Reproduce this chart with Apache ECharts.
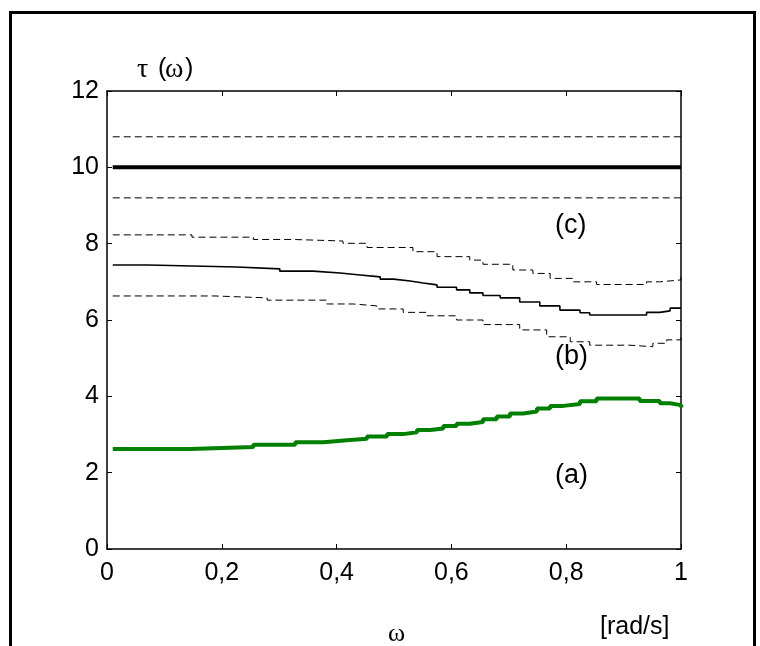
<!DOCTYPE html>
<html>
<head>
<meta charset="utf-8">
<script src="https://cdn.jsdelivr.net/npm/echarts@6/dist/echarts.min.js"></script>
<style>
  html, body { margin: 0; padding: 0; background: #fff; }
  #chart { width: 760px; height: 646px; }
</style>
</head>
<body>
<div id="chart"></div>
<script>
// omega [rad/s], tau values (staircase points: value starts at omega)
const xTicks = [0, 0.2, 0.4, 0.6, 0.8, 1];
const yTicks = [0, 2, 4, 6, 8, 10, 12];

const refLine = [[0.01, 10], [1, 10]];
const refUpper = [[0.01, 10.8], [1, 10.8]];
const refLower = [[0.01, 9.2], [1, 9.2]];

const curveB = [
  [0.01, 7.44], [0.071, 7.39], [0.226, 7.34], [0.301, 7.28], [0.359, 7.23],
  [0.406, 7.18], [0.441, 7.13], [0.476, 7.07], [0.499, 7.02], [0.528, 6.97],
  [0.551, 6.92], [0.575, 6.86], [0.609, 6.79], [0.632, 6.71], [0.655, 6.64],
  [0.685, 6.58], [0.719, 6.47], [0.754, 6.37], [0.789, 6.26], [0.824, 6.19],
  [0.841, 6.13], [0.929, 6.13], [0.94, 6.2], [0.963, 6.24], [0.981, 6.31], [1, 6.31]
];
const curveBUpper = [
  [0.01, 8.23], [0.148, 8.17], [0.255, 8.11], [0.324, 8.07], [0.411, 8.01],
  [0.453, 7.9], [0.533, 7.79], [0.575, 7.66], [0.632, 7.57], [0.655, 7.46],
  [0.707, 7.31], [0.742, 7.22], [0.772, 7.09], [0.812, 7.0], [0.853, 6.93],
  [0.917, 6.93], [0.94, 7.0], [0.963, 7.05], [1, 7.12]
];
const curveBLower = [
  [0.01, 6.63], [0.188, 6.58], [0.279, 6.52], [0.383, 6.42], [0.429, 6.37],
  [0.47, 6.29], [0.516, 6.2], [0.557, 6.11], [0.609, 6.0], [0.655, 5.88],
  [0.719, 5.74], [0.766, 5.56], [0.807, 5.43], [0.841, 5.34], [0.911, 5.3],
  [0.951, 5.39], [0.975, 5.48], [1, 5.56]
];
const curveA = [
  [0.01, 2.62], [0.145, 2.67], [0.255, 2.73], [0.328, 2.8], [0.377, 2.85],
  [0.418, 2.89], [0.453, 2.95], [0.488, 3.01], [0.516, 3.06], [0.54, 3.12],
  [0.563, 3.16], [0.586, 3.22], [0.609, 3.28], [0.632, 3.33], [0.655, 3.4],
  [0.679, 3.47], [0.702, 3.55], [0.725, 3.6], [0.749, 3.68], [0.772, 3.75],
  [0.795, 3.8], [0.824, 3.87], [0.853, 3.94], [0.917, 3.94], [0.928, 3.88],
  [0.963, 3.82], [0.981, 3.77], [1, 3.71]
];

const SANS = "'Liberation Sans', Arial, sans-serif";
const SERIF = "'Liberation Serif', 'Times New Roman', serif";
const DASH = [7, 4];

const inst = echarts.init(document.getElementById("chart"), null, { renderer: "canvas" });

function axisCommon() {
  return {
    min: 0,
    axisLine: { show: true, onZero: false, lineStyle: { color: "#000", width: 1.5 } },
    axisTick: { show: true, inside: true, length: 5, lineStyle: { color: "#000", width: 1 } },
    splitLine: { show: false },
    axisLabel: { show: false },
  };
}

function line(data, color, width, type) {
  return {
    type: "line", data, step: "end", showSymbol: false, symbol: "none",
    lineStyle: { color, width, type: type || "solid" }, animation: false,
  };
}

function txt(str, left, top, size, family) {
  return {
    type: "text", left, top, silent: true,
    style: { text: str, fill: "#000", font: size + "px " + family },
  };
}

inst.setOption({
  animation: false,
  backgroundColor: "#fff",
  grid: { left: 107, right: 79, top: 91, bottom: 97 },
  xAxis: [
    Object.assign(axisCommon(), {
      type: "value", max: 1, interval: 0.2, position: "bottom",
      axisLabel: {
        show: true, color: "#000", fontFamily: SANS, fontSize: 25, margin: 12,
        formatter: (v) => (xTicks.includes(+v.toFixed(1)) ? String(+v.toFixed(1)).replace(".", ",") : ""),
      },
    }),
    Object.assign(axisCommon(), { type: "value", max: 1, interval: 0.2, position: "top" }),
  ],
  yAxis: [
    Object.assign(axisCommon(), {
      type: "value", max: 12, interval: 2, position: "left",
      axisLabel: {
        show: true, color: "#000", fontFamily: SANS, fontSize: 25, margin: 8,
        formatter: (v) => (yTicks.includes(v) ? String(v) : ""),
      },
    }),
    Object.assign(axisCommon(), { type: "value", max: 12, interval: 2, position: "right" }),
  ],
  series: [
    line(refUpper, "#000", 1, DASH),
    line(refLine, "#000", 4),
    line(refLower, "#000", 1, DASH),
    line(curveBUpper, "#000", 1, DASH),
    line(curveB, "#000", 1.6),
    line(curveBLower, "#000", 1, DASH),
    line(curveA, "#008000", 4),
  ],
  graphic: [
    {
      type: "rect", left: 8, top: 10, silent: true,
      shape: { width: 744, height: 700 },
      style: { fill: "none", stroke: "#000", lineWidth: 3 },
    },
    txt("τ", 137, 56, 28, SERIF),
    txt("(", 158, 57, 25, SANS),
    txt("ω", 165, 56, 28, SERIF),
    txt(")", 185, 57, 25, SANS),
    txt("ω", 388, 621, 26, SERIF),
    txt("[rad/s]", 600, 615, 25, SANS),
    txt("(c)", 555, 212, 27, SANS),
    txt("(b)", 555, 343, 27, SANS),
    txt("(a)", 555, 462, 27, SANS),
  ],
});
window.addEventListener("resize", () => inst.resize());
</script>
</body>
</html>
